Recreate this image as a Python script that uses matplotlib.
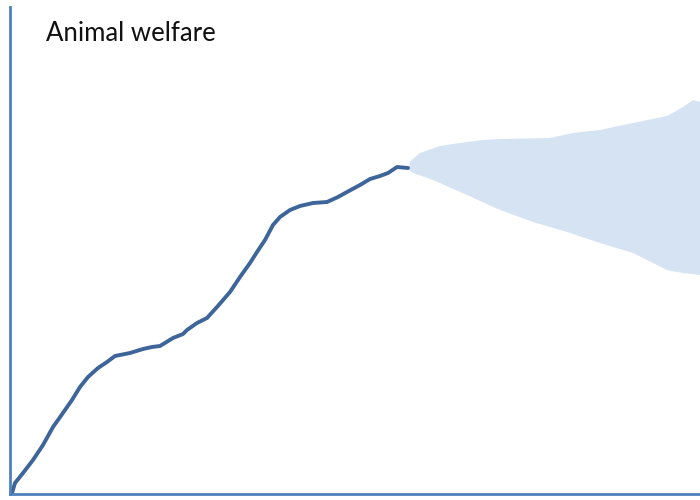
import numpy as np
import matplotlib.pyplot as plt

# historical trend (x = time, y = welfare level, arbitrary units)
hist_x = [2, 5, 13, 23, 33, 43, 48, 55, 62, 70, 78, 88, 97, 105, 120, 133, 142, 150, 163, 173,
          177, 187, 197, 207, 220, 230, 240, 247, 255, 263, 270, 280, 290, 303, 317, 328, 337, 350,
          360, 370, 378, 387, 398]
hist_y = [1, 11, 21, 34, 49, 67, 74, 84, 94, 107, 117, 126, 132, 138, 141, 145, 147, 148, 156, 160,
          164, 171, 176, 187, 202, 217, 231, 242, 254, 269, 277, 284, 288, 291, 292, 297, 302, 309,
          315, 318, 321, 327, 326]

# projection fan (upper / lower bounds)
up_x = [399, 400, 403, 410, 430, 457, 473, 490, 540, 563, 590, 623, 657, 673, 683, 690]
up_y = [327, 332, 335, 341, 348, 352, 354, 355, 356, 361, 364, 371, 378, 387, 394, 392]
low_x = [399, 400, 403, 423, 457, 490, 523, 557, 590, 623, 657, 673, 690]
low_y = [325, 323, 321, 314, 299, 284, 272, 262, 251, 241, 224, 221, 219]

fig = plt.figure(figsize=(7, 5), dpi=100)
ax = fig.add_axes([10 / 700, 6 / 500, 690 / 700, 487 / 500])

ax.fill(up_x + low_x[::-1], up_y + low_y[::-1], color='#d6e3f3', lw=0)
ax.plot(hist_x, hist_y, color='#3d6599', lw=2.8, solid_capstyle='round', solid_joinstyle='round')

ax.set_xlim(0, 690)
ax.set_ylim(0, 487)
for s in ['top', 'right']:
    ax.spines[s].set_visible(False)
for s in ['left', 'bottom']:
    ax.spines[s].set_color('#4f81bd')
    ax.spines[s].set_linewidth(2)
ax.set_xticks([])
ax.set_yticks([])

fig.text(46 / 700, 1 - 33 / 500, 'Animal welfare', fontsize=18.5, family=['Lato', 'DejaVu Sans'],
         va='center', ha='left', color='#111111')

plt.savefig('out.png', dpi=100)
